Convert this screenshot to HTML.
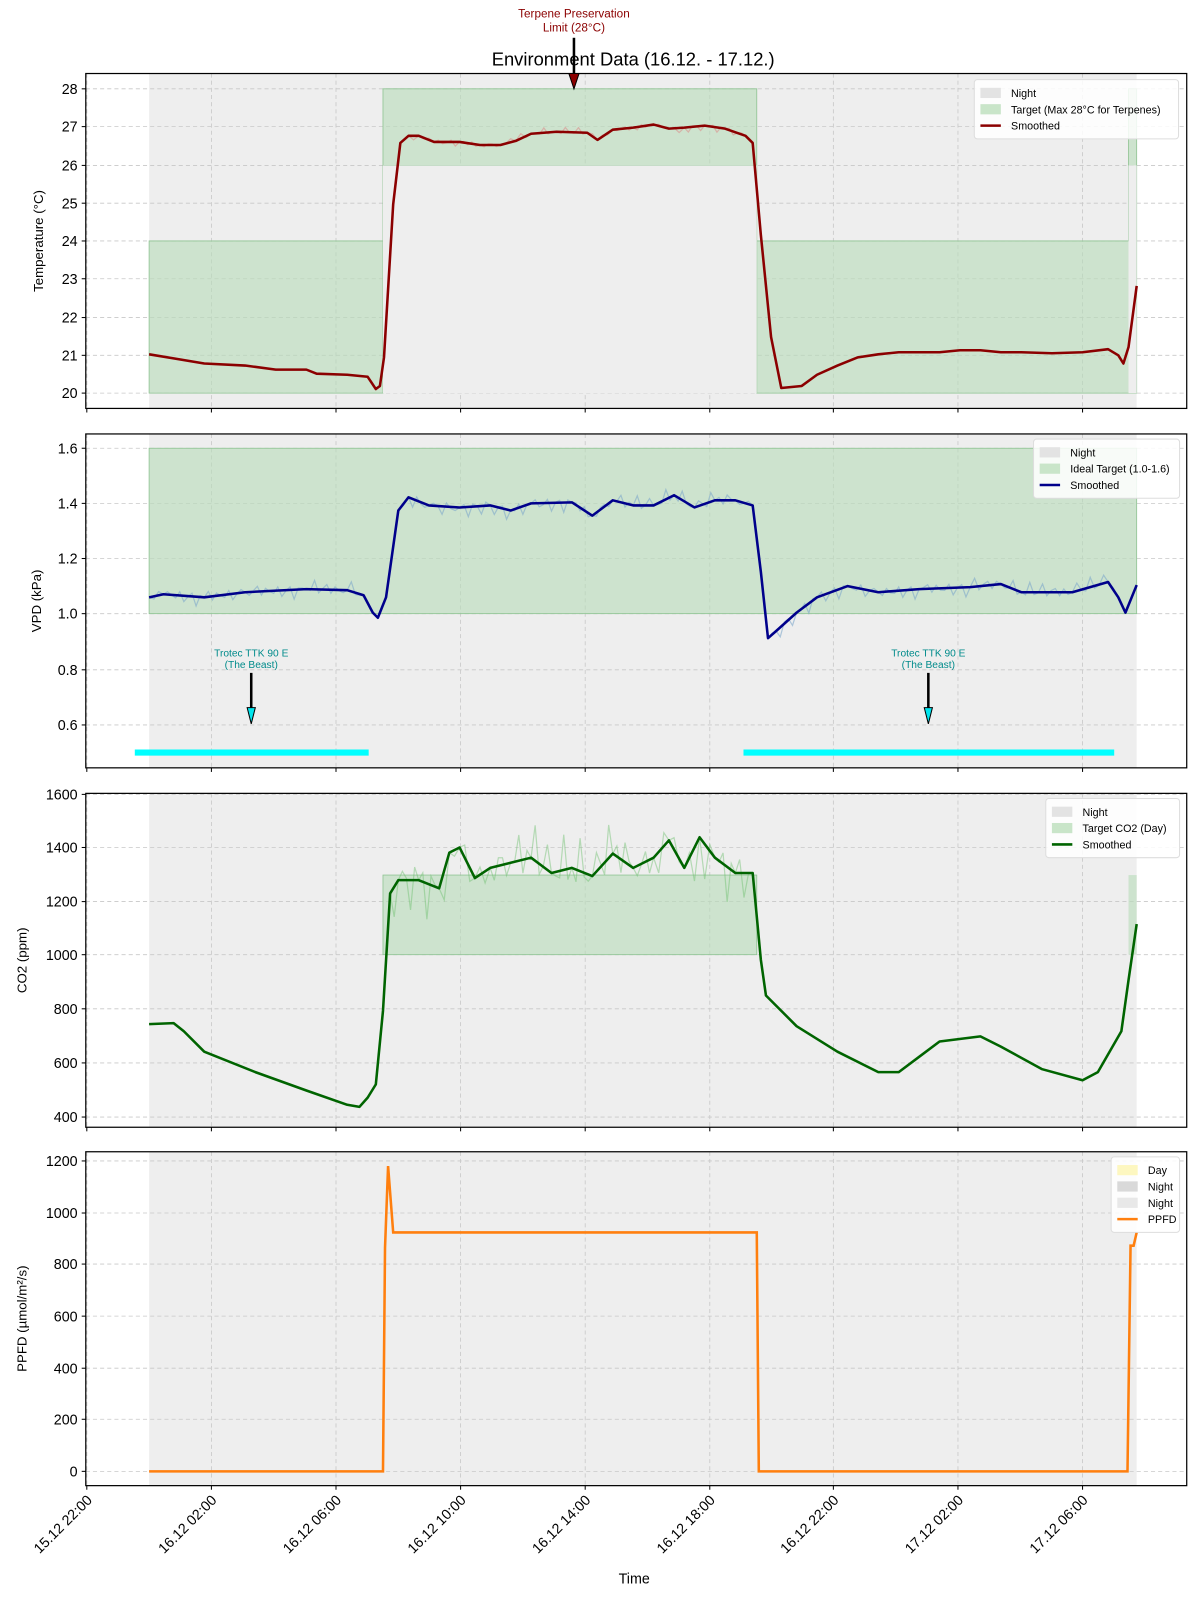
<!DOCTYPE html>
<html><head><meta charset="utf-8"><style>
html,body{margin:0;padding:0;background:#fff}
svg{display:block;font-family:"Liberation Sans","DejaVu Sans",sans-serif}
</style></head><body>
<svg id="s" width="1200" height="1600" viewBox="0 0 1175 1567" preserveAspectRatio="none" xmlns="http://www.w3.org/2000/svg"></svg>
<script>
const s=document.getElementById('s');let h='';
const X0=84,X1=1162,xt=[85,207,329,451,573,695,816,938,1060];
const xl=['15.12 22:00','16.12 02:00','16.12 06:00','16.12 10:00','16.12 14:00','16.12 18:00','16.12 22:00','17.12 02:00','17.12 06:00'];
function P(pts){return pts.map(p=>p.join(',')).join(' ');}
function panel(y0,y1,ticks,label,lx){
 h+=`<rect x="146" y="${y0}" width="967" height="${y1-y0}" fill="#eeeeee"/>`;
 ticks.forEach(t=>{h+=`<line x1="${X0}" x2="${X1}" y1="${t[0]}" y2="${t[0]}" stroke="#c8c8c8" stroke-dasharray="4,3" stroke-width="0.8"/>`;
  h+=`<line x1="${X0-4}" x2="${X0}" y1="${t[0]}" y2="${t[0]}" stroke="#000"/><text x="${X0-8}" y="${t[0]+5}" font-size="14" text-anchor="end">${t[1]}</text>`;});
 xt.forEach(x=>{h+=`<line x1="${x}" x2="${x}" y1="${y0}" y2="${y1}" stroke="#c8c8c8" stroke-dasharray="4,3" stroke-width="0.8"/><line x1="${x}" x2="${x}" y1="${y1}" y2="${y1+4}" stroke="#000"/>`;});
 h+=`<text transform="translate(${lx},${(y0+y1)/2}) rotate(-90)" font-size="13" text-anchor="middle">${label}</text>`;
}
function frame(y0,y1){h+=`<rect x="${X0}" y="${y0}" width="${X1-X0}" height="${y1-y0}" fill="none" stroke="#000" stroke-width="1.2"/>`;}
function legend(x,y,w,items){h+=`<rect x="${x}" y="${y}" width="${w}" height="${items.length*16+10}" fill="#fff" fill-opacity="0.85" stroke="#ddd" rx="3"/>`;
 items.forEach((it,i)=>{const yy=y+13+i*16;
 if(it[0]=='l')h+=`<line x1="${x+6}" x2="${x+26}" y1="${yy}" y2="${yy}" stroke="${it[1]}" stroke-width="2.5"/>`;
 else h+=`<rect x="${x+6}" y="${yy-5}" width="20" height="10" fill="${it[1]}"/>`;
 h+=`<text x="${x+36}" y="${yy+4}" font-size="10.5">${it[2]}</text>`;});}
function noisy(pts,amp,x0,x1){let o=[];for(let i=0;i<pts.length-1;i++){const a=pts[i],b=pts[i+1];o.push(a);if(a[0]>=x0&&b[0]<=x1){const n=Math.max(1,Math.floor((b[0]-a[0])/4));for(let k=1;k<n;k++){const t=k/n;o.push([a[0]+(b[0]-a[0])*t,a[1]+(b[1]-a[1])*t+Math.sin(k*2.3+i*1.7)*amp*((k+i)%3==0?1.6:0.6)]);}}}o.push(pts[pts.length-1]);return o;}
// Panel 1
panel(72,400,[[87,28],[124,27],[162,26],[199,25],[236,24],[273,23],[311,22],[348,21],[385,20]],'Temperature (°C)',42);
h+=`<polygon points="146,236 375,236 375,87 741,87 741,236 1105,236 1105,87 1113,87 1113,385 1105,385 1105,385 741,385 741,162 375,162 375,385 146,385" fill="#b7dcb9" fill-opacity="0.6" stroke="#8fc493" stroke-width="0.8"/>`;
h+=`<rect x="375" y="162" width="366" height="223" fill="#eeeeee"/><rect x="1105" y="162" width="8" height="223" fill="#eeeeee"/>`;
const T=[[146,347],[170,351],[200,356],[240,358],[270,362],[300,362],[310,366],[340,367],[360,369],[368,381],[372,378],[376,350],[385,200],[392,140],[400,133],[410,133],[425,139],[450,139],[470,142],[490,142],[505,138],[520,131],[545,129],[575,130],[585,137],[600,127],[620,125],[640,122],[655,126],[670,125],[690,123],[710,126],[730,133],[737,140],[745,230],[755,330],[765,380],[785,378],[800,367],[820,358],[840,350],[860,347],[880,345],[900,345],[920,345],[940,343],[960,343],[980,345],[1000,345],[1030,346],[1060,345],[1085,342],[1095,348],[1100,356],[1105,340],[1113,280]];
h+=`<polyline points="${P(noisy(T,3,400,735))}" fill="none" stroke="#e08080" stroke-opacity="0.5" stroke-width="1.2"/>`;
h+=`<polyline points="${P(T)}" fill="none" stroke="#8b0000" stroke-width="2.5" stroke-linejoin="round"/>`;
frame(72,400);
legend(954,78,200,[['r','#e3e3e3','Night'],['r','#c9e5c9','Target (Max 28°C for Terpenes)'],['l','#8b0000','Smoothed']]);
h+=`<text x="620" y="64" font-size="18" text-anchor="middle">Environment Data (16.12. - 17.12.)</text>`;
h+=`<text x="562" y="17" font-size="11.5" fill="#8b0000" text-anchor="middle">Terpene Preservation</text><text x="562" y="31" font-size="11.5" fill="#8b0000" text-anchor="middle">Limit (28°C)</text>`;
h+=`<line x1="562" y1="37" x2="562" y2="75" stroke="#000" stroke-width="2.5"/><polygon points="557,72 567,72 562,87" fill="#8b0000" stroke="#000"/>`;
// Panel 2
panel(425,752,[[439,'1.6'],[493,'1.4'],[547,'1.2'],[601,'1.0'],[656,'0.8'],[710,'0.6']],'VPD (kPa)',40);
h+=`<rect x="146" y="439" width="967" height="162" fill="#b7dcb9" fill-opacity="0.6" stroke="#8fc493" stroke-width="0.8"/>`;
const V=[[146,585],[160,582],[200,585],[240,580],[300,577],[340,578],[356,583],[365,600],[370,605],[378,585],[390,500],[400,487],[420,495],[450,497],[480,495],[500,500],[520,493],[560,492],[580,505],[600,490],[620,495],[640,495],[660,485],[680,497],[700,490],[720,490],[737,495],[745,560],[752,625],[760,618],[780,600],[800,585],[830,574],[860,580],[900,577],[950,575],[980,572],[1000,580],[1050,580],[1085,570],[1095,585],[1102,600],[1113,573]];
h+=`<polyline points="${P(noisy(V,6,146,1100))}" fill="none" stroke="#7fa8cc" stroke-opacity="0.6" stroke-width="1.2"/>`;
h+=`<polyline points="${P(V)}" fill="none" stroke="#00008b" stroke-width="2.5" stroke-linejoin="round"/>`;
h+=`<line x1="132" x2="361" y1="737" y2="737" stroke="#00ffff" stroke-width="6"/><line x1="728" x2="1091" y1="737" y2="737" stroke="#00ffff" stroke-width="6"/>`;
[[246],[909]].forEach(a=>{const x=a[0];h+=`<text x="${x}" y="643" font-size="10" fill="#008b8b" text-anchor="middle">Trotec TTK 90 E</text><text x="${x}" y="654" font-size="10" fill="#008b8b" text-anchor="middle">(The Beast)</text><line x1="${x}" x2="${x}" y1="659" y2="696" stroke="#000" stroke-width="2.5"/><polygon points="${x-4},693 ${x+4},693 ${x},709" fill="#00e5ee" stroke="#000"/>`;});
frame(425,752);
legend(1012,430,143,[['r','#e3e3e3','Night'],['r','#c9e5c9','Ideal Target (1.0-1.6)'],['l','#00008b','Smoothed']]);
// Panel 3
panel(777,1104,[[778,1600],[830,1400],[883,1200],[935,1000],[988,800],[1041,600],[1094,400]],'CO2 (ppm)',26);
h+=`<rect x="375" y="857" width="366" height="78" fill="#b7dcb9" fill-opacity="0.6" stroke="#8fc493" stroke-width="0.8"/><rect x="1105" y="857" width="8" height="78" fill="#b7dcb9" fill-opacity="0.6"/>`;
const C=[[146,1003],[170,1002],[180,1010],[200,1030],[250,1050],[300,1068],[340,1082],[352,1084],[360,1075],[368,1062],[375,990],[382,875],[390,862],[410,862],[430,870],[440,835],[450,830],[465,860],[480,850],[500,845],[520,840],[540,855],[560,850],[580,858],[600,836],[620,850],[640,840],[655,823],[670,850],[685,820],[700,840],[720,855],[737,855],[745,940],[750,975],[780,1005],[820,1030],[860,1050],[880,1050],[900,1035],[920,1020],[960,1015],[980,1025],[1020,1047],[1060,1058],[1075,1050],[1098,1010],[1105,960],[1113,905]];
h+=`<polyline points="${P(noisy(C,22,380,740))}" fill="none" stroke="#6cbf6c" stroke-opacity="0.45" stroke-width="1.2"/>`;
h+=`<polyline points="${P(C)}" fill="none" stroke="#006400" stroke-width="2.5" stroke-linejoin="round"/>`;
frame(777,1104);
legend(1024,782,131,[['r','#e3e3e3','Night'],['r','#c9e5c9','Target CO2 (Day)'],['l','#006400','Smoothed']]);
// Panel 4
panel(1128,1455,[[1137,1200],[1188,1000],[1238,800],[1289,600],[1340,400],[1390,200],[1441,0]],'PPFD (µmol/m²/s)',26);
h+=`<polyline points="146,1441 375,1441 377,1222 380,1142 385,1207 741,1207 743,1441 1104,1441 1107,1220 1110,1220 1113,1207" fill="none" stroke="#ff7f0e" stroke-width="2.5"/>`;
frame(1128,1455);
legend(1088,1133,67,[['r','#fdf7c0','Day'],['r','#d9d9d9','Night'],['r','#e8e8e8','Night'],['l','#ff7f0e','PPFD']]);
xt.forEach((x,i)=>{h+=`<text transform="translate(${x+6},${1470}) rotate(-45)" font-size="14" text-anchor="end">${xl[i]}</text>`;});
h+=`<text x="621" y="1551" font-size="14" text-anchor="middle">Time</text>`;
s.innerHTML=h;
</script>
</body></html>
